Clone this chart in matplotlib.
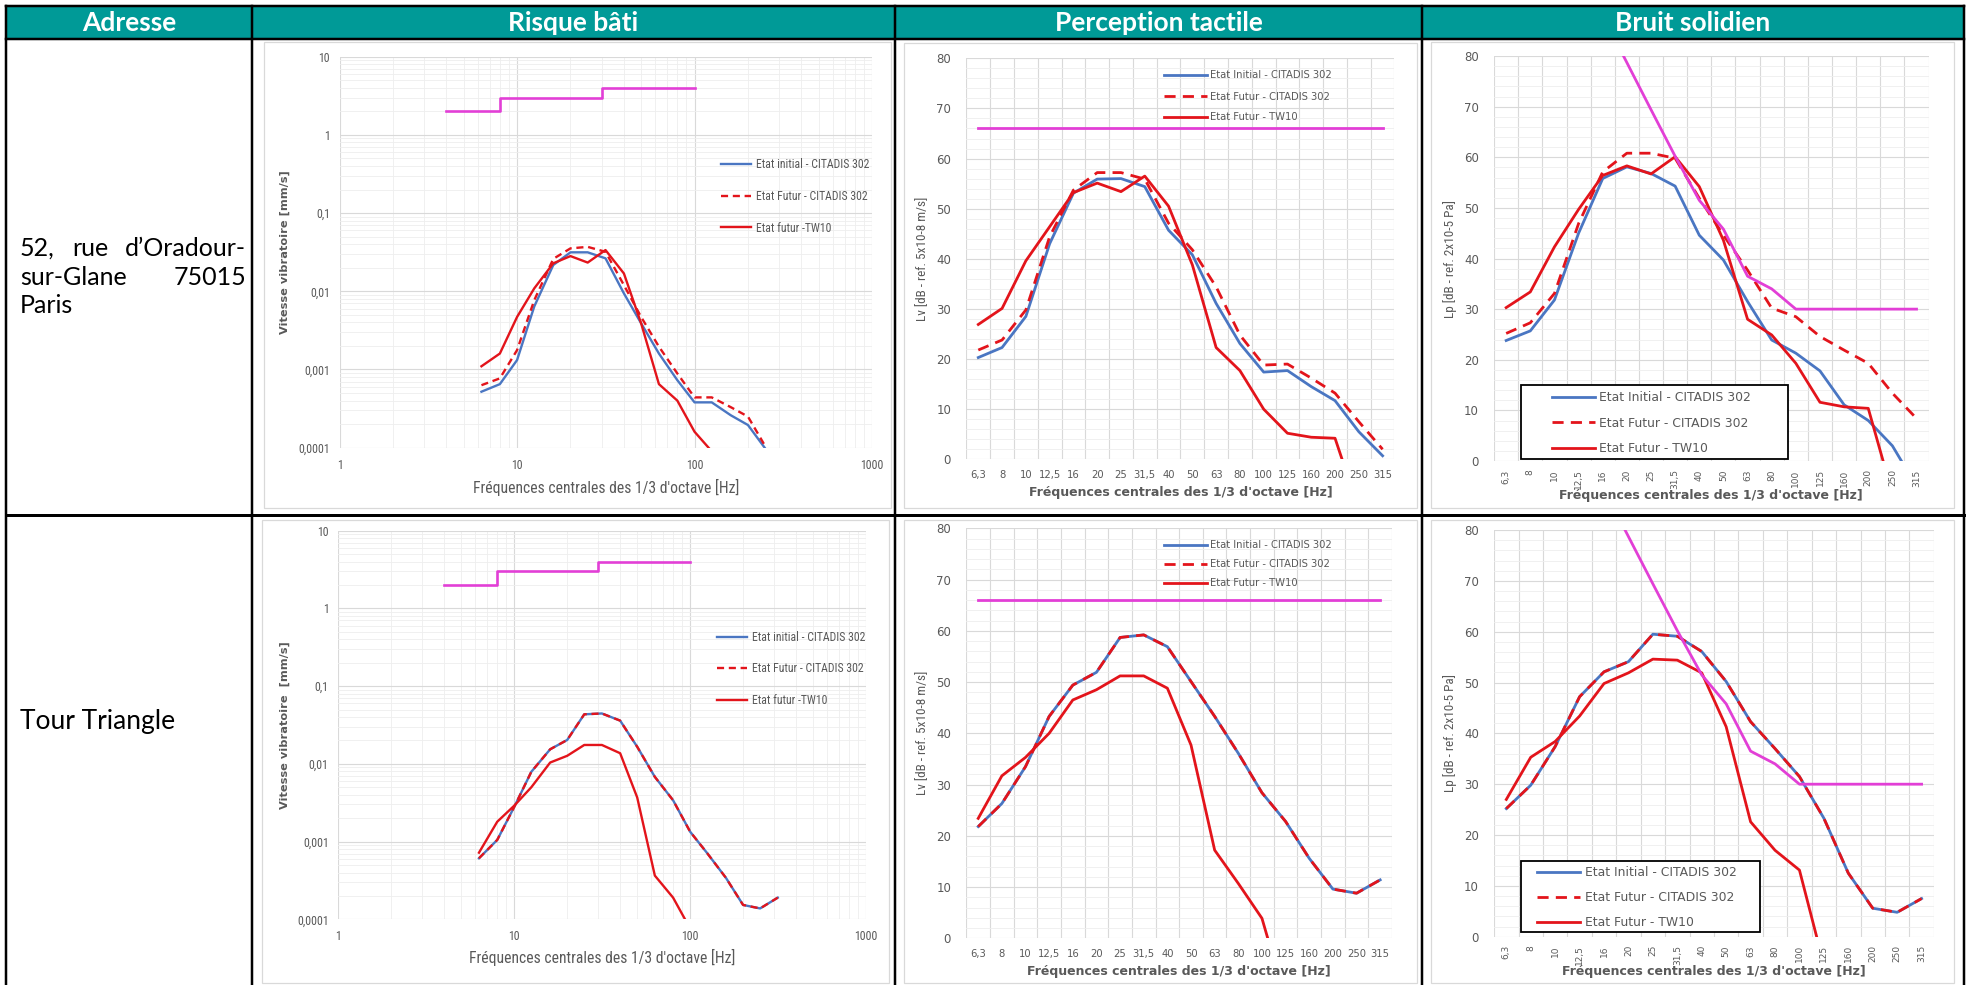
import numpy as np
import matplotlib
matplotlib.use("Agg")
import matplotlib.pyplot as plt
from matplotlib import font_manager
from matplotlib.patches import Rectangle
from matplotlib.lines import Line2D
from matplotlib.font_manager import FontProperties
from matplotlib.ticker import FixedLocator, LogLocator, NullFormatter

W, H, DPI = 1968, 985, 100
nan = np.nan

# ---------------------------------------------------------------- data
bands = ["6,3", "8", "10", "12,5", "16", "20", "25", "31,5", "40", "50",
         "63", "80", "100", "125", "160", "200", "250", "315"]
band_hz = [6.3, 8, 10, 12.5, 16, 20, 25, 31.5, 40, 50,
           63, 80, 100, 125, 160, 200, 250, 315]

bati_xticks = [1, 10, 100, 1000]
bati_xticklabels = ["1", "10", "100", "1000"]
bati_yticks = [0.0001, 0.001, 0.01, 0.1, 1, 10]
bati_yticklabels = ["0,0001", "0,001", "0,01", "0,1", "1", "10"]
db_yticks = [0, 10, 20, 30, 40, 50, 60, 70, 80]

# limit curves
bati_limit_hz = [4, 8, 8, 30, 30, 100]
bati_limit_mms = [2, 2, 3, 3, 4, 4]
tactile_limit_db = [66, 66, 66, 66, 66, 66, 66, 66, 66, 66,
                    66, 66, 66, 66, 66, 66, 66, 66]
solidien_limit_db = [nan, nan, nan, nan, 88, 78.7, 69.4, 60.2, 51.5, 45.8,
                     36.5, 34, 30, 30, 30, 30, 30, 30]

# 52, rue d'Oradour-sur-Glane
oradour_bati_initial = [0.00052, 0.00065, 0.00132, 0.0064, 0.0217, 0.0315, 0.0315, 0.0264, 0.0094, 0.0039,
                        0.0016, 0.00073, 0.00038, 0.00038, 0.00026, 0.000195, 0.000098, nan]
oradour_bati_futur = [0.00063, 0.00077, 0.00177, 0.0077, 0.026, 0.0354, 0.037, 0.032, 0.012, 0.0047,
                      0.00196, 0.00089, 0.00044, 0.00044, 0.00033, 0.00025, 0.000105, nan]
oradour_bati_tw10 = [0.0011, 0.0016, 0.0047, 0.0109, 0.0228, 0.0282, 0.0233, 0.0337, 0.0169, 0.0039,
                     0.00065, 0.0004, 0.00016, 0.00009, nan, nan, nan, nan]

oradour_tactile_initial = [20.3, 22.3, 28.5, 43.0, 53.1, 55.9, 56.0, 54.4, 45.7, 40.8,
                           31.1, 23.1, 17.4, 17.7, 14.5, 11.7, 5.5, 0.7]
oradour_tactile_futur = [21.8, 23.8, 29.8, 44.4, 53.7, 57.2, 57.2, 55.9, 47.1, 41.8,
                         34.4, 24.8, 18.8, 19.0, 16.2, 13.2, 7.5, 2.0]
oradour_tactile_tw10 = [26.9, 30.1, 39.6, 46.4, 53.2, 55.1, 53.4, 56.5, 50.5, 38.8,
                        22.3, 17.7, 10.0, 5.2, 4.4, 4.2, -10.0, nan]

oradour_solidien_initial = [23.8, 25.7, 31.8, 45.0, 55.8, 58.1, 56.8, 54.3, 44.6, 39.7,
                            31.5, 23.9, 21.3, 17.8, 11.1, 8.0, 3.0, -5.0]
oradour_solidien_futur = [25.2, 27.3, 33.1, 46.9, 57.1, 60.8, 60.8, 59.8, 51.9, 44.6,
                          37.7, 30.2, 28.5, 24.6, 21.9, 19.3, 13.4, 8.4]
oradour_solidien_tw10 = [30.3, 33.4, 42.3, 49.7, 56.4, 58.3, 56.7, 60.1, 54.2, 43.6,
                         28.0, 24.9, 19.3, 11.6, 10.7, 10.4, -6.5, nan]

# Tour Triangle
tour_bati_initial = [0.00061, 0.00105, 0.0028, 0.0079, 0.0154, 0.0203, 0.0434, 0.0445, 0.036, 0.0166,
                     0.0068, 0.0034, 0.00134, 0.00071, 0.00034, 0.000153, 0.000138, 0.00019]
tour_bati_futur = [0.00061, 0.00105, 0.0028, 0.0079, 0.0154, 0.0203, 0.0434, 0.0445, 0.036, 0.0166,
                   0.0068, 0.0034, 0.00134, 0.00071, 0.00034, 0.000153, 0.000138, 0.00019]
tour_bati_tw10 = [0.00072, 0.0018, 0.0029, 0.005, 0.0104, 0.0127, 0.0175, 0.0175, 0.0137, 0.0037,
                  0.000365, 0.00019, 0.000076, nan, nan, nan, nan, nan]

tour_tactile_initial = [21.8, 26.3, 33.5, 43.3, 49.4, 51.9, 58.7, 59.2, 56.9, 50.1,
                        43.3, 36.1, 28.4, 22.8, 15.6, 9.6, 8.8, 11.4]
tour_tactile_futur = [21.8, 26.3, 33.5, 43.3, 49.4, 51.9, 58.7, 59.2, 56.9, 50.1,
                      43.3, 36.1, 28.4, 22.8, 15.6, 9.6, 8.8, 11.4]
tour_tactile_tw10 = [23.4, 31.7, 35.3, 40.0, 46.5, 48.5, 51.2, 51.2, 48.8, 37.7,
                     17.2, 10.7, 3.9, -12.0, nan, nan, nan, nan]

tour_solidien_initial = [25.2, 29.8, 37.4, 47.2, 52.1, 54.1, 59.5, 59.1, 56.1, 50.2,
                         42.3, 37.0, 31.5, 23.3, 12.5, 5.6, 4.8, 7.5]
tour_solidien_futur = [25.2, 29.8, 37.4, 47.2, 52.1, 54.1, 59.5, 59.1, 56.1, 50.2,
                       42.3, 37.0, 31.5, 23.3, 12.5, 5.6, 4.8, 7.5]
tour_solidien_tw10 = [27.0, 35.3, 38.4, 43.4, 49.8, 51.9, 54.6, 54.4, 51.9, 41.3,
                      22.6, 17.0, 13.1, -5.5, nan, nan, nan, nan]

column_titles = ["Adresse", "Risque bâti", "Perception tactile", "Bruit solidien"]
bati_labels = ["Etat initial - CITADIS 302", "Etat Futur - CITADIS 302", "Etat futur -TW10"]
db_labels = ["Etat Initial - CITADIS 302", "Etat Futur - CITADIS 302", "Etat Futur - TW10"]
freq_title = "Fréquences centrales des 1/3 d'octave [Hz]"

# ---------------------------------------------------------------- style
BLUE = "#4a76c2"
RED = "#e3141b"
MAGENTA = "#e23fd6"
GRID = "#d9d9d9"
GRID_MINOR = "#eeeeee"
TXT = "#595959"
TEAL = "#009a97"
FRAME = "#d9d9d9"
WIDE = ["DejaVu Sans"]
LATO = ["Lato", "DejaVu Sans"]

# narrow face for the Excel-style labels: use the narrowest family available
_faces = {(f.name, f.stretch) for f in font_manager.fontManager.ttflist}
_names = {n for n, _ in _faces}
if "Liberation Sans Narrow" in _names:
    NARROW_KW, NARROW_SCALE = dict(family="Liberation Sans Narrow"), 1.0
elif "Roboto Condensed" in _names:
    NARROW_KW, NARROW_SCALE = dict(family="Roboto Condensed"), 0.97
elif ("Noto Sans", "condensed") in _faces:
    NARROW_KW, NARROW_SCALE = dict(family="Noto Sans", stretch="condensed"), 0.95
elif ("DejaVu Sans", "condensed") in _faces:
    NARROW_KW, NARROW_SCALE = dict(family="DejaVu Sans", stretch="condensed"), 0.86
else:
    NARROW_KW, NARROW_SCALE = dict(family="Liberation Sans"), 0.88


def narrow(size, **kw):
    return FontProperties(size=size * NARROW_SCALE, **NARROW_KW, **kw)


def wide(size, **kw):
    return FontProperties(family=WIDE, size=size, **kw)


fig = plt.figure(figsize=(W / DPI, H / DPI), dpi=DPI)
fig.patch.set_facecolor("white")


def fx(x):
    return x / W


def fy(y):
    return 1 - y / H


def add_px_axes(box):
    l, t, r, b = box
    return fig.add_axes([l / W, 1 - b / H, (r - l) / W, (b - t) / H])


def to_axes(box, x, y):
    l, t, r, b = box
    return (x - l) / (r - l), (b - y) / (b - t)


def rule(x0, y0, x1, y1, lw_px, color="black", z=5):
    fig.add_artist(Line2D([fx(x0), fx(x1)], [fy(y0), fy(y1)], transform=fig.transFigure,
                          color=color, lw=lw_px * 0.72, solid_capstyle="projecting", zorder=z))


def frame(box):
    l, t, r, b = box
    fig.add_artist(Rectangle((fx(l), fy(b)), (r - l) / W, (b - t) / H, transform=fig.transFigure,
                             facecolor="none", edgecolor=FRAME, lw=0.9, zorder=1))


# ---------------------------------------------------------------- table
TL, TR, TT = 6, 1964, 6
HEAD_B = 39
ROW_SEP = 515
COLS = [252, 895, 1422]

fig.add_artist(Rectangle((fx(TL), fy(HEAD_B)), (TR - TL) / W, (HEAD_B - TT) / H,
                         transform=fig.transFigure, facecolor=TEAL, edgecolor="none", zorder=0))
rule(TL, TT, TR, TT, 2.5)
rule(TL, HEAD_B, TR, HEAD_B, 2.5)
rule(TL, ROW_SEP, TR, ROW_SEP, 3)
for x in [TL] + COLS + [TR]:
    rule(x, TT, x, H + 5, 2.5)

col_edges = [TL] + COLS + [TR]
for i, title in enumerate(column_titles):
    cx = (col_edges[i] + col_edges[i + 1]) / 2
    fig.text(fx(cx), fy(23), title, ha="center", va="center", color="white",
             fontsize=19, fontweight="bold", family=LATO)

# chart frames
for box in [(264, 42, 891, 508), (904, 43, 1417, 508), (1431, 42, 1954, 508),
            (262, 520, 889, 983), (904, 520, 1417, 983), (1431, 520, 1954, 983)]:
    frame(box)

# address column (justified text)
renderer = fig.canvas.get_renderer()
ADDR_SIZE = 18


def justified_line(words, x0, x1, y):
    texts = [fig.text(0, fy(y), w, ha="left", va="baseline", fontsize=ADDR_SIZE,
                      family=LATO, color="black") for w in words]
    widths = [t.get_window_extent(renderer).width for t in texts]
    gap = (x1 - x0 - sum(widths)) / max(len(words) - 1, 1)
    x = x0
    for t, w in zip(texts, widths):
        t.set_x(fx(x))
        x += w + gap


justified_line(["52,", "rue", "d\u2019Oradour-"], 20, 246, 256)
justified_line(["sur-Glane", "75015"], 20, 246, 285)
fig.text(fx(20), fy(313), "Paris", ha="left", va="baseline", fontsize=ADDR_SIZE, family=LATO, color="black")
fig.text(fx(20), fy(729), "Tour Triangle", ha="left", va="baseline", fontsize=ADDR_SIZE + 1, family=LATO,
         color="black")


# ---------------------------------------------------------------- charts
def style_ticklabels(ax, fp_x, fp_y):
    for lab in ax.get_xticklabels():
        lab.set_fontproperties(fp_x)
        lab.set_color(TXT)
    for lab in ax.get_yticklabels():
        lab.set_fontproperties(fp_y)
        lab.set_color(TXT)


def place_legend(ax, box, x, y, fp, hlen, hpad, lspace):
    ax_x, ax_y = to_axes(box, x, y)
    leg = ax.legend(loc="upper left", bbox_to_anchor=(ax_x, ax_y), bbox_transform=ax.transAxes,
                    frameon=False, borderpad=0, borderaxespad=0, handlelength=hlen,
                    handletextpad=hpad, labelspacing=lspace, prop=fp)
    for t in leg.get_texts():
        t.set_color(TXT)
    leg.set_zorder(10)
    return leg


def bati_chart(box, initial, futur, tw10, ylabel, legend_xy, ylabel_x, xlabel_y):
    ax = add_px_axes(box)
    ax.set_xscale("log")
    ax.set_yscale("log")
    ax.plot(band_hz, initial, color=BLUE, lw=1.7, label=bati_labels[0])
    ax.plot(band_hz, futur, color=RED, lw=1.7, ls=(0, (3.0, 2.0)), label=bati_labels[1])
    ax.plot(band_hz, tw10, color=RED, lw=1.7, label=bati_labels[2])
    ax.plot(bati_limit_hz, bati_limit_mms, color=MAGENTA, lw=1.9, zorder=4)
    ax.set_xlim(1, 1000)
    ax.set_ylim(1e-4, 10)
    ax.set_xticks(bati_xticks, bati_xticklabels)
    ax.set_yticks(bati_yticks, bati_yticklabels)
    for axis in (ax.xaxis, ax.yaxis):
        axis.set_minor_locator(LogLocator(base=10, subs=np.arange(2, 10), numticks=20))
        axis.set_minor_formatter(NullFormatter())
    ax.grid(which="major", color=GRID, lw=0.8)
    ax.grid(which="minor", color=GRID_MINOR, lw=0.6)
    ax.set_axisbelow(True)
    for s in ax.spines.values():
        s.set_visible(False)
    ax.tick_params(which="both", length=0)
    ax.tick_params(axis="x", pad=8)
    ax.tick_params(axis="y", pad=7)
    style_ticklabels(ax, narrow(8.8), narrow(8.8))
    place_legend(ax, box, legend_xy[0], legend_xy[1], narrow(8.7), 2.6, 0.35, 1.6)
    l, t, r, b = box
    fig.text(fx((l + r) / 2), fy(xlabel_y), freq_title, ha="center", va="center",
             fontproperties=narrow(11.6), color=TXT)
    fig.text(fx(ylabel_x), fy((t + b) / 2), ylabel, ha="center", va="center", rotation=90,
             fontproperties=wide(8.2, weight="bold"), color=TXT)
    return ax


def db_chart(box, initial, futur, tw10, limit, ylabel, rotate, legend, ylabel_x, xlabel_y):
    ax = add_px_axes(box)
    x = np.arange(len(bands))
    ax.plot(x, initial, color=BLUE, lw=2.0, label=db_labels[0])
    ax.plot(x, futur, color=RED, lw=2.0, ls=(0, (4.0, 2.6)), label=db_labels[1])
    ax.plot(x, tw10, color=RED, lw=2.0, label=db_labels[2])
    ax.plot(x, limit, color=MAGENTA, lw=2.0, zorder=4)
    ax.set_xlim(-0.5, len(bands) - 0.5)
    ax.set_ylim(0, 80)
    ax.set_xticks(x, bands)
    ax.set_yticks(db_yticks)
    ax.xaxis.set_minor_locator(FixedLocator(np.arange(-0.5, len(bands), 1.0)))
    ax.yaxis.set_minor_locator(FixedLocator(np.arange(0, 81, 2)))
    ax.xaxis.grid(True, which="minor", color=GRID, lw=0.8)
    ax.xaxis.grid(False, which="major")
    ax.yaxis.grid(True, which="major", color=GRID, lw=0.8)
    ax.yaxis.grid(True, which="minor", color=GRID_MINOR, lw=0.6)
    ax.set_axisbelow(True)
    for s in ax.spines.values():
        s.set_visible(False)
    ax.tick_params(which="both", length=0)
    ax.tick_params(axis="y", pad=11)
    if rotate:
        ax.tick_params(axis="x", pad=6)
        for lab in ax.get_xticklabels():
            lab.set_rotation(90)
        style_ticklabels(ax, wide(6.5), wide(8.5))
    else:
        ax.tick_params(axis="x", pad=8)
        style_ticklabels(ax, wide(7.2), wide(8.5))
    lx, ly, size, hlen, hpad, lspace, fbox = legend
    place_legend(ax, box, lx, ly, wide(size), hlen, hpad, lspace)
    if fbox is not None:
        fl, ft, fr, fb = fbox
        x0, y0 = to_axes(box, fl, fb)
        x1, y1 = to_axes(box, fr, ft)
        ax.add_patch(Rectangle((x0, y0), x1 - x0, y1 - y0, transform=ax.transAxes,
                               facecolor="white", edgecolor="black", lw=1.3, zorder=9,
                               clip_on=False))
    l, t, r, b = box
    fig.text(fx((l + r) / 2), fy(xlabel_y), freq_title, ha="center", va="center",
             fontproperties=wide(9, weight="bold"), color=TXT)
    fig.text(fx(ylabel_x), fy((t + b) / 2), ylabel, ha="center", va="center", rotation=90,
             fontproperties=narrow(9.8), color=TXT)
    return ax


A1 = (339.6, 56.7, 872, 447.7)
A2 = (966.4, 58.3, 1394.5, 459.3)
A3 = (1494.1, 56, 1928.6, 461)
A4 = (338.4, 530.7, 866, 919.3)
A5 = (966.4, 528.3, 1392, 938.3)
A6 = (1494.1, 530, 1933.8, 936.7)

LV = "Lv [dB - ref. 5x10-8 m/s]"
LP = "Lp [dB - ref. 2x10-5 Pa]"

bati_chart(A1, oradour_bati_initial, oradour_bati_futur, oradour_bati_tw10,
           "Vitesse vibratoire [mm/s]", (721, 158), 285, 487)
bati_chart(A4, tour_bati_initial, tour_bati_futur, tour_bati_tw10,
           "Vitesse vibratoire  [mm/s]", (717, 630.7), 285, 957)

db_chart(A2, oradour_tactile_initial, oradour_tactile_futur, oradour_tactile_tw10, tactile_limit_db,
         LV, False, (1163.8, 70.5, 7.2, 4.3, 0.3, 1.1, None), 923, 492)
db_chart(A5, tour_tactile_initial, tour_tactile_futur, tour_tactile_tw10, tactile_limit_db,
         LV, False, (1163.8, 540.5, 7.2, 4.3, 0.3, 0.88, None), 923, 971)
db_chart(A3, oradour_solidien_initial, oradour_solidien_futur, oradour_solidien_tw10, solidien_limit_db,
         LP, True, (1552, 391.2, 8.9, 3.5, 0.27, 1.02, (1520.7, 385, 1787.7, 459.3)), 1450, 495.5)
db_chart(A6, tour_solidien_initial, tour_solidien_futur, tour_solidien_tw10, solidien_limit_db,
         LP, True, (1537, 866.2, 8.9, 3.5, 0.4, 0.97, (1521.4, 860.7, 1759.7, 932.3)), 1450, 971.5)

fig.savefig("out.png", dpi=DPI, facecolor="white")
